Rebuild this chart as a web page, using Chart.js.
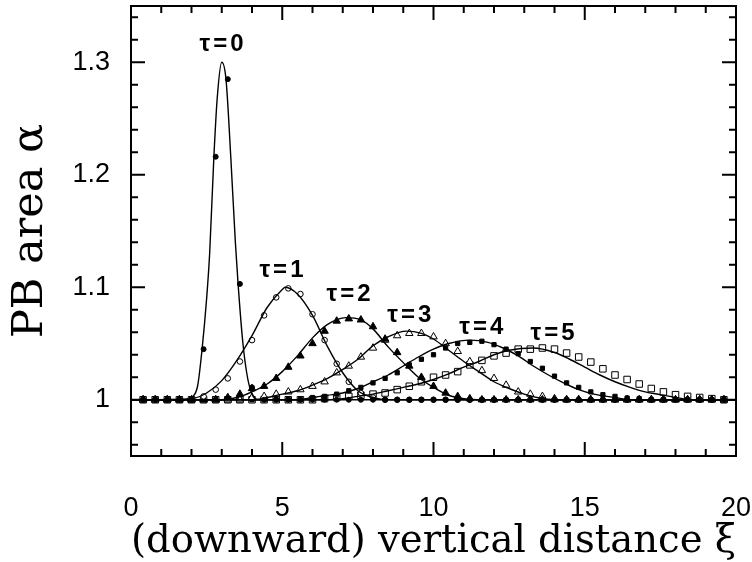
<!DOCTYPE html>
<html>
<head>
<meta charset="utf-8">
<script src="https://cdn.jsdelivr.net/npm/chart.js@4"></script>
<style>
  html, body { margin: 0; padding: 0; background: #fff; }
  #wrap { width: 752px; height: 562px; }
</style>
</head>
<body>
<div id="wrap"><canvas id="chart" width="752" height="562"></canvas></div>
<script>
// marker positions along xi (same grid for every tau)
const markerX = [0.4, 0.8, 1.2, 1.6, 2.0, 2.4, 2.8, 3.2, 3.6, 4.0,
  4.4, 4.8, 5.2, 5.6, 6.0, 6.4, 6.8, 7.2, 7.6, 8.0,
  8.4, 8.8, 9.2, 9.6, 10.0, 10.4, 10.8, 11.2, 11.6, 12.0,
  12.4, 12.8, 13.2, 13.6, 14.0, 14.4, 14.8, 15.2, 15.6, 16.0,
  16.4, 16.8, 17.2, 17.6, 18.0, 18.4, 18.8, 19.2, 19.6]

const tau0Marks = [1, 1, 1, 1, 1, 1.045, 1.216, 1.285, 1.103, 1.011,
  1, 1, 1, 1, 1, 1, 1, 1, 1, 1,
  1, 1, 1, 1, 1, 1, 1, 1, 1, 1,
  1, 1, 1, 1, 1, 1, 1, 1, 1, 1,
  1, 1, 1, 1, 1, 1, 1, 1, 1]
const tau1Marks = [1, 1, 1, 1, 1, 1.003, 1.009, 1.019, 1.034, 1.053,
  1.075, 1.091, 1.099, 1.094, 1.076, 1.053, 1.032, 1.016, 1.006, 1.002,
  1, 1, 1, 1, 1, 1, 1, 1, 1, 1,
  1, 1, 1, 1, 1, 1, 1, 1, 1, 1,
  1, 1, 1, 1, 1, 1, 1, 1, 1]
const tau2Marks = [1, 1, 1, 1, 1, 1, 1, 1.002, 1.005, 1.010,
  1.012, 1.019, 1.029, 1.039, 1.050, 1.061, 1.070, 1.072, 1.071, 1.065,
  1.054, 1.042, 1.030, 1.020, 1.012, 1.006, 1.003, 1.001, 1, 1,
  1, 1, 1, 1, 1, 1, 1, 1, 1, 1,
  1, 1, 1, 1, 1, 1, 1, 1, 1]
const tau3Marks = [1, 1, 1, 1, 1, 1, 1, 1, 1, 1.002,
  1.003, 1.005, 1.007, 1.009, 1.012, 1.016, 1.024, 1.030, 1.038, 1.046,
  1.053, 1.057, 1.059, 1.059, 1.056, 1.050, 1.043, 1.034, 1.026, 1.019,
  1.013, 1.007, 1.005, 1.003, 1.001, 1, 1, 1, 1, 1,
  1, 1, 1, 1, 1, 1, 1, 1, 1]
const tau4Marks = [1, 1, 1, 1, 1, 1, 1, 1, 1, 1,
  1, 1, 1, 1, 1.002, 1.003, 1.005, 1.008, 1.011, 1.015,
  1.019, 1.024, 1.031, 1.036, 1.040, 1.046, 1.050, 1.051, 1.052, 1.049,
  1.045, 1.041, 1.034, 1.028, 1.021, 1.015, 1.011, 1.007, 1.0045, 1.003,
  1.0015, 1.001, 1, 1, 1, 1, 1, 1, 1]
const tau5Marks = [1, 1, 1, 1, 1, 1, 1, 1, 1, 1,
  1, 1, 1, 1, 1, 1.001, 1.002, 1.003, 1.004, 1.005,
  1.006, 1.009, 1.012, 1.016, 1.020, 1.022, 1.025, 1.031, 1.035, 1.039,
  1.0415, 1.045, 1.045, 1.046, 1.045, 1.0415, 1.038, 1.0335, 1.0275, 1.022,
  1.018, 1.014, 1.010, 1.007, 1.0045, 1.003, 1.002, 1.001, 1]

// smooth curves
const tau0CurveX = [0, 1.8, 2.0, 2.2, 2.35, 2.5, 2.6, 2.74, 2.85, 3.0, 3.14, 3.3, 3.45, 3.54, 3.7, 3.85, 4.0, 4.2, 20]
const tau0CurveY = [1, 1, 1.002, 1.012, 1.045, 1.09, 1.13, 1.216, 1.268, 1.300, 1.285, 1.215, 1.14, 1.103, 1.05, 1.02, 1.005, 1, 1]
const tau1CurveX = [0, 2.0, 2.5, 3.0, 3.5, 4.0, 4.5, 5.0, 5.1, 5.5, 6.0, 6.5, 7.0, 7.5, 8.0, 8.5, 20]
const tau1CurveY = [1, 1.001, 1.006, 1.017, 1.035, 1.057, 1.082, 1.098, 1.100, 1.094, 1.075, 1.047, 1.024, 1.008, 1.002, 1, 1]
const tau2CurveX = [0, 3.0, 3.5, 4.0, 4.5, 5.0, 5.5, 6.0, 6.5, 7.1, 7.6, 8.0, 8.5, 9.0, 9.5, 10.0, 10.5, 11.0, 11.5, 20]
const tau2CurveY = [1, 1, 1.002, 1.007, 1.014, 1.025, 1.039, 1.055, 1.067, 1.073, 1.071, 1.063, 1.047, 1.033, 1.020, 1.011, 1.004, 1.001, 1, 1]
const tau3CurveX = [0, 4.0, 5.0, 5.5, 6.0, 6.5, 7.0, 7.5, 8.0, 8.5, 9.1, 9.6, 10.0, 10.5, 11.0, 11.5, 12.0, 12.5, 13.0, 13.5, 14.0, 20]
const tau3CurveY = [1, 1, 1.005, 1.008, 1.013, 1.019, 1.027, 1.036, 1.048, 1.056, 1.061, 1.059, 1.054, 1.044, 1.034, 1.025, 1.016, 1.010, 1.005, 1.0015, 1, 1]
const tau4CurveX = [0, 5.5, 6.0, 6.5, 7.0, 7.5, 8.0, 8.5, 9.0, 9.5, 10.0, 10.5, 11.2, 11.8, 12.3, 12.8, 13.3, 13.8, 14.3, 14.8, 15.3, 16.0, 16.5, 20]
const tau4CurveY = [1, 1, 1.002, 1.004, 1.006, 1.010, 1.016, 1.022, 1.030, 1.038, 1.045, 1.050, 1.053, 1.051, 1.046, 1.039, 1.030, 1.022, 1.015, 1.009, 1.005, 1.002, 1, 1]
const tau5CurveX = [0, 6.5, 7.0, 7.5, 8.0, 8.5, 9.0, 9.5, 10.0, 10.5, 11.0, 11.5, 12.0, 12.5, 13.3, 14.0, 14.5, 15.0, 15.5, 16.0, 16.5, 17.0, 17.5, 18.0, 18.6, 20]
const tau5CurveY = [1, 1, 1.001, 1.003, 1.005, 1.008, 1.011, 1.014, 1.018, 1.023, 1.029, 1.034, 1.040, 1.044, 1.046, 1.042, 1.036, 1.029, 1.022, 1.016, 1.011, 1.007, 1.0045, 1.002, 1, 1]

// axis ticks
const xTickValues = [0, 5, 10, 15, 20]
const yTickValues = [1, 1.1, 1.2, 1.3]

// curve labels (data coordinates)
const tauLabels = ['τ=0', 'τ=1', 'τ=2', 'τ=3', 'τ=4', 'τ=5']
const tauLabelX = [3.01, 4.99, 7.21, 9.22, 11.6, 13.95]
const tauLabelY = [1.316, 1.115, 1.094, 1.0748, 1.064, 1.059]

const toPoints = (xs, ys) => xs.map((x, i) => ({ x: x, y: ys[i] }))

function curve(xs, ys) {
  return {
    data: toPoints(xs, ys),
    showLine: true,
    borderColor: '#000',
    borderWidth: 1.4,
    pointRadius: 0,
    cubicInterpolationMode: 'monotone'
  }
}

function marks(ys, style, radius, filled) {
  return {
    data: toPoints(markerX, ys),
    showLine: false,
    pointStyle: style,
    pointRadius: radius,
    pointBorderWidth: 1,
    pointBorderColor: '#000',
    pointBackgroundColor: filled ? '#000' : '#fff'
  }
}

// no extra room for edge labels, the frame sits where the figure has it
function noPad(s) {
  s.paddingLeft = 0
  s.paddingRight = 0
  s.paddingTop = 0
  s.paddingBottom = 0
}

// frame with inward ticks, plus the tau labels
const frameTicks = {
  id: 'frameTicks',
  afterDatasetsDraw(chart) {
    const { ctx, chartArea: a, scales: { x, y } } = chart
    ctx.save()
    ctx.strokeStyle = '#000'
    ctx.lineWidth = 2
    ctx.beginPath()
    for (let i = 0; i <= 20; i++) {
      const px = x.getPixelForValue(i)
      const len = i % 5 === 0 ? 14 : 7
      ctx.moveTo(px, a.bottom); ctx.lineTo(px, a.bottom - len)
      ctx.moveTo(px, a.top); ctx.lineTo(px, a.top + len)
    }
    for (let j = 48; j <= 67; j++) {
      const py = y.getPixelForValue(j / 50)
      const len = j % 5 === 0 ? 14 : 7
      ctx.moveTo(a.left, py); ctx.lineTo(a.left + len, py)
      ctx.moveTo(a.right, py); ctx.lineTo(a.right - len, py)
    }
    ctx.stroke()
    ctx.strokeRect(a.left, a.top, a.right - a.left, a.bottom - a.top)

    ctx.fillStyle = '#000'
    ctx.font = 'bold 24px "Liberation Sans"'
    ctx.letterSpacing = '3px'
    ctx.textAlign = 'center'
    ctx.textBaseline = 'middle'
    tauLabels.forEach((t, i) => {
      ctx.fillText(t, x.getPixelForValue(tauLabelX[i]) + 1, y.getPixelForValue(tauLabelY[i]))
    })
    ctx.restore()
  }
}

const config = {
  type: 'scatter',
  data: {
    datasets: [
      curve(tau0CurveX, tau0CurveY),
      curve(tau1CurveX, tau1CurveY),
      curve(tau2CurveX, tau2CurveY),
      curve(tau3CurveX, tau3CurveY),
      curve(tau4CurveX, tau4CurveY),
      curve(tau5CurveX, tau5CurveY),
      marks(tau0Marks, 'circle', 2.5, true),
      marks(tau1Marks, 'circle', 2.8, false),
      marks(tau2Marks, 'triangle', 4.3, true),
      marks(tau3Marks, 'triangle', 4.3, false),
      marks(tau4Marks, 'rect', 3.0, true),
      marks(tau5Marks, 'rect', 4.6, false)
    ]
  },
  options: {
    responsive: false,
    animation: false,
    devicePixelRatio: 1,
    layout: { padding: { left: 0, right: 16, top: 6, bottom: 0 } },
    plugins: { legend: { display: false }, tooltip: { enabled: false } },
    scales: {
      x: {
        type: 'linear',
        min: 0,
        max: 20,
        grid: { display: false, drawTicks: false },
        border: { display: false },
        afterBuildTicks: (s) => { s.ticks = xTickValues.map(v => ({ value: v })) },
        afterFit: (s) => { s.height = 106; noPad(s) },
        ticks: {
          color: '#000',
          padding: 36,
          maxRotation: 0,
          font: { family: '"Liberation Sans"', size: 27 },
          callback: (v) => String(v)
        },
        title: {
          display: true,
          text: '(downward) vertical distance ξ',
          color: '#000',
          font: { family: '"DejaVu Serif"', size: 40, lineHeight: 1.0 },
          padding: { top: 0, bottom: 0 }
        }
      },
      y: {
        type: 'linear',
        min: 0.95,
        max: 1.35,
        grid: { display: false, drawTicks: false },
        border: { display: false },
        afterBuildTicks: (s) => { s.ticks = yTickValues.map(v => ({ value: v })) },
        afterFit: (s) => { s.width = 131; noPad(s) },
        ticks: {
          color: '#000',
          padding: 21,
          font: { family: '"Liberation Sans"', size: 27 },
          callback: (v) => v === 1 ? '1' : v.toFixed(1)
        },
        title: {
          display: true,
          text: 'PB area α',
          color: '#000',
          font: { family: '"DejaVu Serif"', size: 43, lineHeight: 1.2 },
          padding: { top: 5, bottom: 0 }
        }
      }
    }
  },
  plugins: [frameTicks]
}

new Chart(document.getElementById('chart'), config)
</script>
</body>
</html>
